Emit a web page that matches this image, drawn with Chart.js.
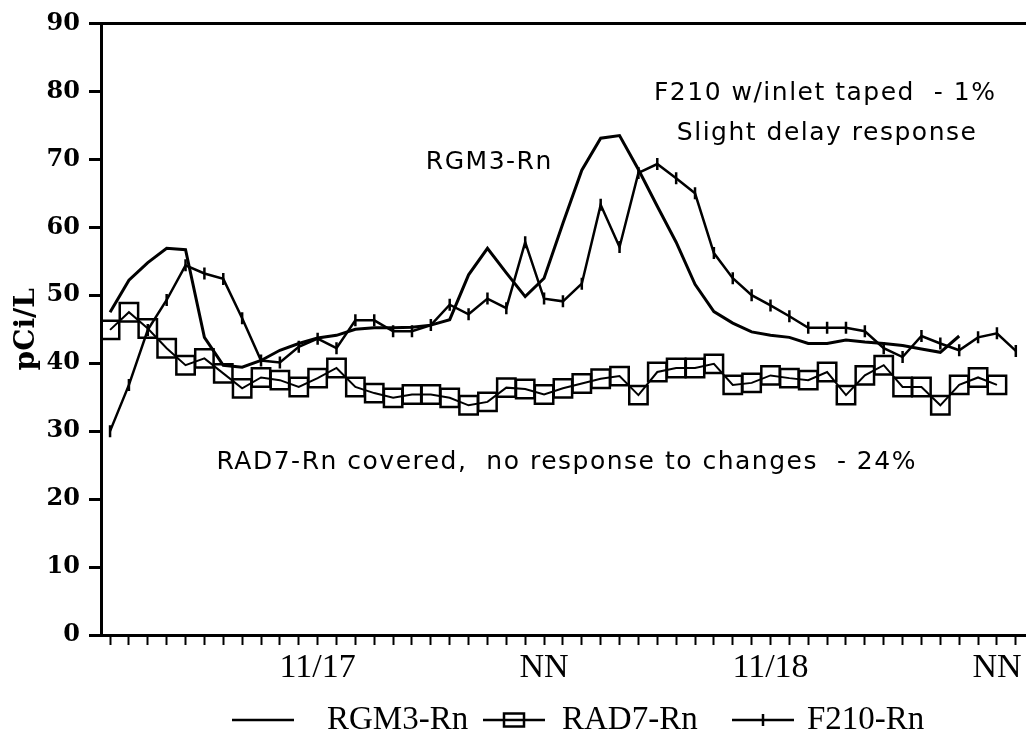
<!DOCTYPE html>
<html>
<head>
<meta charset="utf-8">
<script src="https://cdn.jsdelivr.net/npm/chart.js@4.4.0/dist/chart.umd.min.js"></script>
<style>
  html, body { margin: 0; padding: 0; background: #fff; }
</style>
</head>
<body>
<canvas id="radonChart" width="1026" height="747"></canvas>
<script>
// hourly readings, index 0 = first hour on the plot
const rgm3 = [47.5, 52.2, 54.8, 56.9, 56.7, 43.8, 39.7, 39.4, 40.4, 41.9,
  42.9, 43.7, 44.1, 45.0, 45.2, 45.2, 45.3, 45.6, 46.4, 53.0,
  56.9, 53.3, 49.8, 52.5, 60.6, 68.4, 73.1, 73.5, 68.5, 63.1,
  57.8, 51.6, 47.6, 45.9, 44.6, 44.1, 43.8, 42.9, 42.9, 43.4,
  43.1, 42.9, 42.6, 42.1, 41.6, 44.0];
const rad7 = [44.9, 47.5, 45.1, 42.2, 39.7, 40.7, 38.5, 36.3, 37.9, 37.5,
  36.5, 37.8, 39.3, 36.5, 35.6, 34.9, 35.4, 35.4, 34.9, 33.8,
  34.3, 36.4, 36.2, 35.4, 36.3, 37.0, 37.7, 38.1, 35.3, 38.7,
  39.3, 39.3, 39.9, 36.8, 37.1, 38.2, 37.8, 37.5, 38.7, 35.3,
  38.2, 39.7, 36.5, 36.5, 33.8, 36.8, 37.9, 36.8];
const f210 = [30.0, 36.8, 44.9, 49.3, 54.4, 53.2, 52.4, 46.6, 40.4, 40.1,
  42.4, 43.6, 42.2, 46.3, 46.3, 44.7, 44.7, 45.6, 48.6, 47.2,
  49.5, 48.1, 57.8, 49.5, 49.1, 51.7, 63.3, 57.1, 68.0, 69.3,
  67.2, 65.0, 56.2, 52.5, 50.0, 48.5, 46.9, 45.2, 45.2, 45.2,
  44.7, 42.2, 40.9, 44.0, 42.9, 41.9, 43.8, 44.4, 41.8];

const seriesNames = ['RGM3-Rn', 'RAD7-Rn', 'F210-Rn'];
const tickHours = [11, 23, 35, 47];
const tickLabels = ['11/17', 'NN', '11/18', 'NN'];

const notes = [
  { text: 'RGM3-Rn', x: 20.1, y: 69.5 },
  { text: 'F210 w/inlet taped  - 1%', x: 37.9, y: 79.7 },
  { text: 'Slight delay response', x: 38.0, y: 73.8 },
  { text: 'RAD7-Rn covered,  no response to changes  - 24%', x: 24.2, y: 25.4 }
];

function toPoints(arr) {
  return arr.map((v, i) => ({ x: i, y: v }));
}

const topBorder = {
  id: 'topBorder',
  afterDraw(chart) {
    const { ctx, chartArea } = chart;
    ctx.save();
    ctx.strokeStyle = '#000';
    ctx.lineWidth = 3;
    ctx.beginPath();
    ctx.moveTo(chartArea.left - 1.5, chartArea.top);
    ctx.lineTo(chartArea.right, chartArea.top);
    ctx.stroke();
    ctx.restore();
  }
};

const noteText = {
  id: 'noteText',
  afterDatasetsDraw(chart) {
    const { ctx, scales } = chart;
    ctx.save();
    ctx.fillStyle = '#000';
    ctx.font = '25px "DejaVu Sans"';
    ctx.letterSpacing = '1.5px';
    ctx.textAlign = 'center';
    ctx.textBaseline = 'middle';
    notes.forEach(n => {
      ctx.fillText(n.text, scales.x.getPixelForValue(n.x), scales.y.getPixelForValue(n.y));
    });
    ctx.restore();
  }
};

// legend under the axis, drawn by hand so the samples look like the original
const legendSpots = [[232, 327], [483, 562], [732, 807]];
const bottomLegend = {
  id: 'bottomLegend',
  afterDraw(chart) {
    const ctx = chart.ctx;
    const y = 720;
    ctx.save();
    ctx.strokeStyle = '#000';
    ctx.fillStyle = '#000';
    ctx.lineWidth = 2.5;
    ctx.font = '33px "Liberation Serif"';
    ctx.textBaseline = 'middle';
    chart.data.datasets.forEach((ds, i) => {
      const [sx, tx] = legendSpots[i];
      const cx = sx + 31;
      ctx.beginPath();
      ctx.moveTo(sx, y);
      ctx.lineTo(sx + 62, y);
      ctx.stroke();
      if (ds.pointStyle === 'rect') {
        ctx.strokeRect(cx - 10, y - 6.5, 20, 13);
      } else if (ds.pointStyle === 'line') {
        ctx.beginPath();
        ctx.moveTo(cx, y - 6);
        ctx.lineTo(cx, y + 6);
        ctx.stroke();
      }
      ctx.fillText(ds.label, tx, y);
    });
    ctx.restore();
  }
};

const ctx = document.getElementById('radonChart').getContext('2d');
new Chart(ctx, {
  type: 'line',
  data: {
    datasets: [
      {
        label: seriesNames[0],
        data: toPoints(rgm3),
        borderColor: '#000',
        borderWidth: 3,
        pointRadius: 0,
        tension: 0
      },
      {
        label: seriesNames[1],
        data: toPoints(rad7),
        borderColor: '#000',
        borderWidth: 2,
        pointStyle: 'rect',
        pointRadius: 13,
        pointBorderWidth: 2.5,
        pointBorderColor: '#000',
        pointBackgroundColor: 'rgba(0,0,0,0)',
        tension: 0
      },
      {
        label: seriesNames[2],
        data: toPoints(f210),
        borderColor: '#000',
        borderWidth: 2.5,
        pointStyle: 'line',
        rotation: 90,
        pointRadius: 6,
        pointBorderWidth: 2.5,
        pointBorderColor: '#000',
        tension: 0
      }
    ]
  },
  options: {
    responsive: false,
    animation: false,
    devicePixelRatio: 1,
    layout: { autoPadding: false, padding: { top: 23, right: 0, bottom: 62, left: 0 } },
    plugins: {
      legend: { display: false },
      tooltip: { enabled: false }
    },
    scales: {
      x: {
        type: 'linear',
        min: -0.48,
        max: 48.54,
        afterBuildTicks(scale) {
          const t = [];
          for (let h = 0; h <= 48; h++) t.push({ value: h });
          scale.ticks = t;
        },
        afterFit(scale) {
          scale.height = 50;
          scale.paddingLeft = 0;
          scale.paddingRight = 0;
        },
        grid: { drawOnChartArea: false, drawTicks: true, tickLength: 10, tickWidth: 2, tickColor: '#000' },
        border: { display: true, color: '#000', width: 3 },
        ticks: {
          autoSkip: false,
          minRotation: 0,
          maxRotation: 0,
          padding: 3,
          color: '#000',
          font: { family: 'Liberation Serif', size: 34 },
          callback: (value) => {
            const i = tickHours.indexOf(value);
            return i >= 0 ? tickLabels[i] : '';
          }
        }
      },
      y: {
        min: 0,
        max: 90,
        afterFit(scale) { scale.width = 101; },
        grid: { drawOnChartArea: false, drawTicks: true, tickLength: 12, tickWidth: 3, tickColor: '#000' },
        border: { display: true, color: '#000', width: 3 },
        ticks: {
          stepSize: 10,
          padding: 9,
          color: '#000',
          font: { family: 'DejaVu Serif', size: 24, weight: 'bold' }
        },
        title: {
          display: true,
          text: 'pCi/L',
          color: '#000',
          padding: { top: 10, bottom: 0 },
          font: { family: 'DejaVu Serif', size: 28, weight: 'bold' }
        }
      }
    }
  },
  plugins: [topBorder, noteText, bottomLegend]
});
</script>
</body>
</html>
